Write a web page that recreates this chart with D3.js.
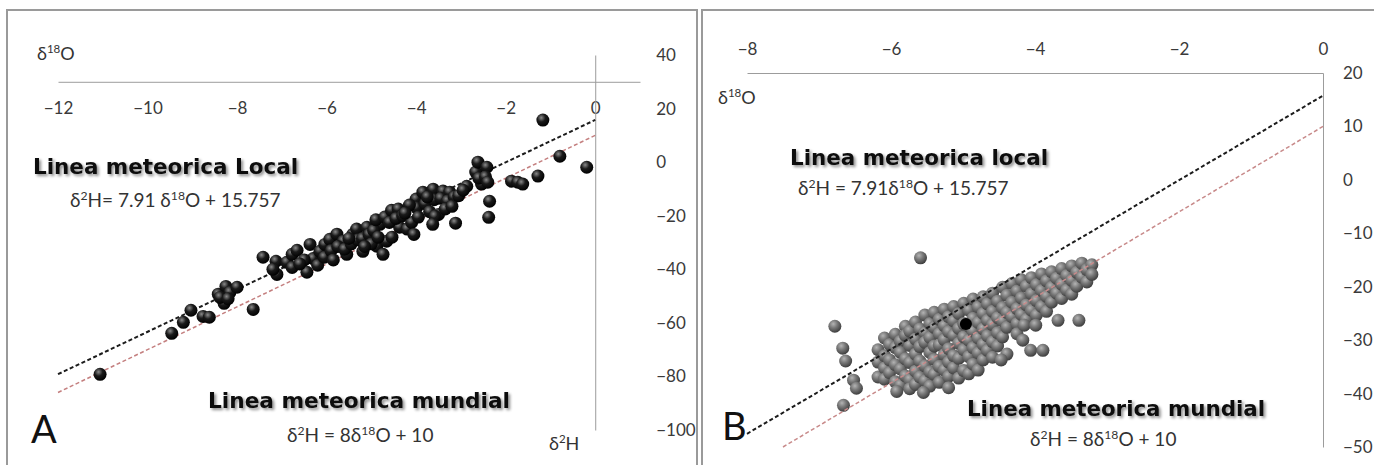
<!DOCTYPE html>
<html>
<head>
<meta charset="utf-8">
<style>
  body { margin: 0; background: #fff; }
  svg { display: block; }
  .tick text { font-family: Lato, "Open Sans", sans-serif; font-size: 17px; fill: #3a3a3a; }
  .lbl { font-family: Lato, "Open Sans", sans-serif; fill: #333; }
  .ttl { font-family: "DejaVu Sans", Verdana, sans-serif; font-weight: bold; fill: #111; }
</style>
</head>
<body>
<svg width="1374" height="465"></svg>
<script src="https://d3js.org/d3.v7.min.js"></script>
<script>

// ---- Panel A : datos (d18O, d2H) ----
var pointsA = [
  [-11.06,-79.2],[-9.46,-63.9],[-9.20,-59.8],[-9.03,-55.3],[-8.76,-57.6],[-8.62,-57.9],
  [-8.42,-49.3],[-8.25,-46.4],[-8.29,-52.7],[-8.16,-48.6],[-8.00,-46.7],[-8.38,-50.5],
  [-8.20,-51.0],[-7.64,-55.0],[-7.42,-35.5],[-7.13,-37.0],[-7.11,-41.9],[-6.89,-37.4],
  [-6.77,-34.4],[-6.66,-32.9],[-6.77,-39.3],[-6.44,-41.1],[-6.37,-30.7],[-6.30,-36.0],
  [-6.15,-33.3],[-6.04,-30.7],[-5.93,-28.8],[-5.77,-26.9],[-5.63,-29.5],[-5.55,-34.4],
  [-5.41,-26.9],[-5.33,-25.0],[-5.19,-33.3],[-5.10,-24.3],[-4.88,-31.4],[-4.74,-34.4],
  [-4.66,-29.5],[-4.54,-28.0],[-4.81,-23.2],[-4.37,-24.3],[-6.20,-38.5],[-6.05,-35.5],
  [-5.90,-33.0],[-5.75,-31.5],[-5.85,-36.5],[-5.60,-32.5],[-5.45,-30.5],[-5.30,-29.0],
  [-5.20,-28.5],[-5.05,-27.0],[-4.95,-25.5],[-5.00,-30.5],[-4.90,-21.5],[-4.70,-20.5],
  [-4.55,-18.0],[-4.40,-17.5],[-4.60,-22.5],[-4.45,-21.0],[-4.30,-20.0],[-4.20,-25.0],
  [-4.10,-22.5],[-4.00,-13.8],[-3.85,-11.2],[-3.62,-10.1],[-3.40,-10.8],[-3.25,-11.2],
  [-3.99,-17.0],[-3.80,-15.5],[-3.60,-14.0],[-3.45,-13.5],[-3.30,-14.5],[-3.15,-13.0],
  [-3.70,-18.5],[-3.50,-19.5],[-3.35,-17.5],[-3.58,-20.2],[-3.63,-23.2],[-3.12,-22.8],
  [-3.20,-16.5],[-3.05,-12.5],[-2.87,-9.0],[-2.67,-3.7],[-2.62,0.0],[-2.42,-1.9],
  [-2.54,-8.2],[-2.60,-6.0],[-2.45,-5.5],[-2.40,-7.5],[-2.36,-14.6],[-2.38,-20.6],
  [-1.87,-7.1],[-1.73,-7.5],[-1.62,-8.2],[-1.28,-5.2],[-1.17,15.7],[-0.79,2.2],
  [-0.19,-1.9],[-2.95,-10.5],[-4.85,-28.0],[-4.15,-16.0],[-3.95,-20.5],[-4.25,-19.0],
  [-5.15,-31.5],[-5.50,-28.5],[-6.50,-36.5],[-6.60,-38.0],[-7.20,-40.0],[-4.05,-27.0],
  [-3.75,-13.0]
];
var xTicksA = [-12, -10, -8, -6, -4, -2, 0];
var yTicksA = [40, 20, 0, -20, -40, -60, -80, -100];

// ---- Panel B ----
var pointsB = [
  [-6.18,-31.8],[-6.18,-34.1],[-6.18,-36.9],
  [-6.09,-29.6],[-6.09,-32.9],[-6.09,-35.2],[-6.09,-37.3],
  [-6.02,-30.8],[-6.02,-33.7],[-6.02,-36.1],
  [-5.94,-28.9],[-5.94,-31.4],[-5.94,-34.6],[-5.94,-37.8],
  [-5.87,-30.2],[-5.87,-32.3],[-5.87,-35.4],[-5.87,-38.4],
  [-5.80,-27.4],[-5.80,-29.1],[-5.80,-33.5],[-5.80,-36.7],
  [-5.74,-28.3],[-5.74,-31.0],[-5.74,-34.2],[-5.74,-37.4],[-5.74,-39.1],
  [-5.66,-26.6],[-5.66,-29.8],[-5.66,-32.6],[-5.66,-35.8],[-5.66,-38.3],
  [-5.60,-27.9],[-5.60,-31.2],[-5.60,-33.9],[-5.60,-36.9],
  [-5.53,-25.3],[-5.53,-28.6],[-5.53,-30.4],[-5.53,-34.8],[-5.53,-37.6],
  [-5.46,-26.9],[-5.46,-29.5],[-5.46,-32.3],[-5.46,-35.9],[-5.46,-38.6],
  [-5.40,-24.8],[-5.40,-27.6],[-5.40,-31.1],[-5.40,-33.6],[-5.40,-36.4],
  [-5.33,-26.1],[-5.33,-28.8],[-5.33,-30.9],[-5.33,-34.9],[-5.33,-37.9],
  [-5.26,-24.2],[-5.26,-27.3],[-5.26,-29.9],[-5.26,-32.7],[-5.26,-35.6],
  [-5.20,-25.6],[-5.20,-28.4],[-5.20,-31.6],[-5.20,-34.1],[-5.20,-36.8],[-5.20,-38.9],
  [-5.13,-23.7],[-5.13,-26.4],[-5.13,-29.1],[-5.13,-32.9],[-5.13,-35.2],
  [-5.06,-25.0],[-5.06,-27.8],[-5.06,-30.6],[-5.06,-33.4],[-5.06,-37.1],
  [-4.99,-23.1],[-4.99,-26.9],[-4.99,-29.4],[-4.99,-31.8],[-4.99,-35.7],
  [-4.92,-24.4],[-4.92,-27.4],[-4.92,-30.0],[-4.92,-33.1],[-4.92,-36.3],
  [-4.86,-22.3],[-4.86,-25.9],[-4.86,-28.3],[-4.86,-31.4],[-4.86,-34.5],
  [-4.79,-23.8],[-4.79,-26.7],[-4.79,-29.6],[-4.79,-32.4],[-4.79,-35.6],
  [-4.72,-21.9],[-4.72,-25.0],[-4.72,-27.9],[-4.72,-30.8],[-4.72,-33.7],
  [-4.66,-23.2],[-4.66,-26.3],[-4.66,-29.2],[-4.66,-31.9],
  [-4.59,-21.2],[-4.59,-24.6],[-4.59,-27.1],[-4.59,-30.3],[-4.59,-33.2],
  [-4.52,-22.7],[-4.52,-25.8],[-4.52,-28.6],[-4.52,-31.1],
  [-4.45,-20.1],[-4.45,-23.9],[-4.45,-26.4],[-4.45,-29.4],
  [-4.39,-21.6],[-4.39,-24.8],[-4.39,-27.6],[-4.39,-32.6],
  [-4.32,-19.4],[-4.32,-22.9],[-4.32,-25.6],
  [-4.25,-20.8],[-4.25,-24.1],[-4.25,-26.9],[-4.25,-28.8],
  [-4.19,-18.7],[-4.19,-22.1],[-4.19,-25.2],
  [-4.12,-19.9],[-4.12,-23.4],[-4.12,-26.1],
  [-4.05,-18.3],[-4.05,-21.3],[-4.05,-24.4],
  [-3.98,-19.6],[-3.98,-22.6],[-3.98,-25.3],
  [-3.91,-17.6],[-3.91,-20.7],[-3.91,-23.7],
  [-3.84,-18.9],[-3.84,-21.8],[-3.84,-24.6],
  [-3.77,-17.2],[-3.77,-20.1],[-3.77,-22.9],
  [-3.70,-18.4],[-3.70,-21.2],
  [-3.63,-16.6],[-3.63,-19.5],[-3.63,-22.2],
  [-3.56,-17.9],[-3.56,-20.6],
  [-3.49,-16.1],[-3.49,-18.8],[-3.49,-21.4],
  [-3.42,-17.3],[-3.42,-19.9],
  [-3.35,-15.6],[-3.35,-18.2],
  [-3.28,-16.8],[-3.28,-19.1],
  [-3.21,-15.9],[-3.21,-17.7],
  // puntos aislados
  [-5.59,-14.6],[-6.78,-27.4],[-6.67,-31.5],[-6.63,-33.9],[-6.52,-37.5],[-6.48,-39.0],
  [-6.66,-42.2],[-3.68,-26.3],[-3.39,-26.3],[-4.15,-27.2],[-3.99,-27.2],[-4.17,-30.0],
  [-4.06,-31.9],[-3.89,-31.9],[-4.47,-33.7],[-5.92,-39.6],[-5.55,-39.8]
];
var highlightB = [[-4.96, -27.0]];
var xTicksB = [-8, -6, -4, -2, 0];
var yTicksB = [20, 10, 0, -10, -20, -30, -40, -50];

// rectas: d2H = m * d18O + b
var lmLocal = { m: 7.91, b: 15.757 };
var lmMundial = { m: 8, b: 10 };

var svg = d3.select("svg");
var defs = svg.append("defs");

function sphere(id, c0, c1, c2) {
  var g = defs.append("radialGradient").attr("id", id)
      .attr("cx", "38%").attr("cy", "32%").attr("r", "70%");
  g.append("stop").attr("offset", "0%").attr("stop-color", c0);
  g.append("stop").attr("offset", "45%").attr("stop-color", c1);
  g.append("stop").attr("offset", "100%").attr("stop-color", c2);
}
sphere("ballBlack", "#8a8a8a", "#1a1a1a", "#000");
sphere("ballGrey", "#b4b4b4", "#787878", "#3c3c3c");

var f = defs.append("filter").attr("id", "shadow")
    .attr("x", "-5%").attr("y", "-30%").attr("width", "115%").attr("height", "170%");
f.append("feGaussianBlur").attr("in", "SourceAlpha").attr("stdDeviation", 1.6);
f.append("feOffset").attr("dx", 1.5).attr("dy", 2).attr("result", "off");
f.append("feComponentTransfer").attr("in", "off").attr("result", "soft")
  .append("feFuncA").attr("type", "linear").attr("slope", 0.45);
var fm = f.append("feMerge");
fm.append("feMergeNode").attr("in", "soft");
fm.append("feMergeNode").attr("in", "SourceGraphic");

// bordes de los paneles
svg.append("rect").attr("x", 7).attr("y", 10).attr("width", 690).attr("height", 470)
    .attr("fill", "none").attr("stroke", "#9a9a9a").attr("stroke-width", 2);
svg.append("rect").attr("x", 702).attr("y", 10).attr("width", 690).attr("height", 470)
    .attr("fill", "none").attr("stroke", "#9a9a9a").attr("stroke-width", 2);

// texto con superindices: partes [texto, esSuper]
function richText(g, x, y, size, parts, cls) {
  var t = g.append("text").attr("class", cls || "lbl")
      .attr("x", x).attr("y", y).style("font-size", size + "px");
  var shift = size * 0.38, up = false;
  parts.forEach(function(p) {
    var s = t.append("tspan").text(p[0]);
    if (p[1]) {
      s.style("font-size", (size * 0.64) + "px").attr("dy", -shift);
      up = true;
    } else if (up) {
      s.attr("dy", shift);
      up = false;
    }
  });
  return t;
}

function regLine(g, x, y, lm, x0, x1, color, width) {
  g.append("line")
      .attr("x1", x(x0)).attr("y1", y(lm.m * x0 + lm.b))
      .attr("x2", x(x1)).attr("y2", y(lm.m * x1 + lm.b))
      .attr("stroke", color).attr("stroke-width", width)
      .attr("stroke-dasharray", "4,2.5");
}

// ================= Panel A =================
var gA = svg.append("g");
var xA = d3.scaleLinear().domain([-12, 1]).range([58, 640]);
var yA = d3.scaleLinear().domain([-100, 40]).range([430, 55]);

gA.append("g")
    .attr("transform", "translate(0," + yA(30) + ")")
    .call(d3.axisBottom(xA).tickValues(xTicksA).tickSize(0).tickSizeOuter(0).tickPadding(20))
    .call(function(a) { a.select(".domain").attr("stroke", "#9c9c9c"); });

gA.append("g")
    .attr("transform", "translate(" + xA(0) + ",0)")
    .call(d3.axisRight(yA).tickValues(yTicksA).tickSize(0).tickSizeOuter(0).tickPadding(61))
    .call(function(a) {
      a.select(".domain").attr("stroke", "#9c9c9c");
      a.selectAll(".tick text").attr("text-anchor", "start");
    });

regLine(gA, xA, yA, lmMundial, -12, 0, "#c47f7f", 1.5);
regLine(gA, xA, yA, lmLocal, -12, 0, "#1c1c1c", 2);

gA.selectAll("circle.pt").data(pointsA).enter().append("circle")
    .attr("class", "pt")
    .attr("cx", function(d) { return xA(d[0]); })
    .attr("cy", function(d) { return yA(d[1]); })
    .attr("r", 6.5)
    .attr("fill", "url(#ballBlack)");

richText(gA, 37, 60, 18, [["δ", 0], ["18", 1], ["O", 0]]);
richText(gA, 549, 450, 18, [["δ", 0], ["2", 1], ["H", 0]]);

gA.append("text").attr("class", "ttl").attr("x", 33).attr("y", 174)
    .style("font-size", "21px").attr("textLength", 265).attr("lengthAdjust", "spacingAndGlyphs")
    .attr("filter", "url(#shadow)").text("Linea meteorica Local");
richText(gA, 70, 207, 19, [["δ", 0], ["2", 1], ["H= 7.91 δ", 0], ["18", 1], ["O + 15.757", 0]]);

gA.append("text").attr("class", "ttl").attr("x", 208).attr("y", 408)
    .style("font-size", "21px").attr("textLength", 302).attr("lengthAdjust", "spacingAndGlyphs")
    .attr("filter", "url(#shadow)").text("Linea meteorica mundial");
richText(gA, 287, 442, 19, [["δ", 0], ["2", 1], ["H = 8δ", 0], ["18", 1], ["O + 10", 0]]);

gA.append("text").attr("class", "lbl").attr("x", 31).attr("y", 443)
    .style("font-size", "38px").style("fill", "#111").text("A");

// ================= Panel B =================
var gB = svg.append("g");
var xB = d3.scaleLinear().domain([-8, 0]).range([747, 1323]);
var yB = d3.scaleLinear().domain([-50, 20]).range([447, 73]);

gB.append("g")
    .attr("transform", "translate(0," + yB(20) + ")")
    .call(d3.axisTop(xB).tickValues(xTicksB).tickSize(0).tickSizeOuter(0).tickPadding(18))
    .call(function(a) { a.select(".domain").attr("stroke", "#9c9c9c"); });

gB.append("g")
    .attr("transform", "translate(" + xB(0) + ",0)")
    .call(d3.axisRight(yB).tickValues(yTicksB).tickSize(0).tickSizeOuter(0).tickPadding(20))
    .call(function(a) {
      a.select(".domain").attr("stroke", "#9c9c9c");
      a.selectAll(".tick text").attr("text-anchor", "start");
    });

gB.selectAll("circle.pt").data(pointsB).enter().append("circle")
    .attr("class", "pt")
    .attr("cx", function(d) { return xB(d[0]); })
    .attr("cy", function(d) { return yB(d[1]); })
    .attr("r", 6.5)
    .attr("fill", "url(#ballGrey)");

regLine(gB, xB, yB, lmMundial, -7.5, 0, "#c88a8a", 1.5);
regLine(gB, xB, yB, lmLocal, -8, 0, "#1c1c1c", 2);

gB.selectAll("circle.hl").data(highlightB).enter().append("circle")
    .attr("class", "hl")
    .attr("cx", function(d) { return xB(d[0]); })
    .attr("cy", function(d) { return yB(d[1]); })
    .attr("r", 6)
    .attr("fill", "#000");

richText(gB, 718, 104, 18, [["δ", 0], ["18", 1], ["O", 0]]);

gB.append("text").attr("class", "ttl").attr("x", 790).attr("y", 165)
    .style("font-size", "21px").attr("textLength", 258).attr("lengthAdjust", "spacingAndGlyphs")
    .attr("filter", "url(#shadow)").text("Linea meteorica local");
richText(gB, 798, 195, 19, [["δ", 0], ["2", 1], ["H = 7.91δ", 0], ["18", 1], ["O + 15.757", 0]]);

gB.append("text").attr("class", "ttl").attr("x", 967).attr("y", 416)
    .style("font-size", "21px").attr("textLength", 298).attr("lengthAdjust", "spacingAndGlyphs")
    .attr("filter", "url(#shadow)").text("Linea meteorica mundial");
richText(gB, 1030, 446, 19, [["δ", 0], ["2", 1], ["H = 8δ", 0], ["18", 1], ["O + 10", 0]]);

gB.append("text").attr("class", "lbl").attr("x", 722).attr("y", 440)
    .style("font-size", "38px").style("fill", "#111").text("B");

</script>
</body>
</html>
